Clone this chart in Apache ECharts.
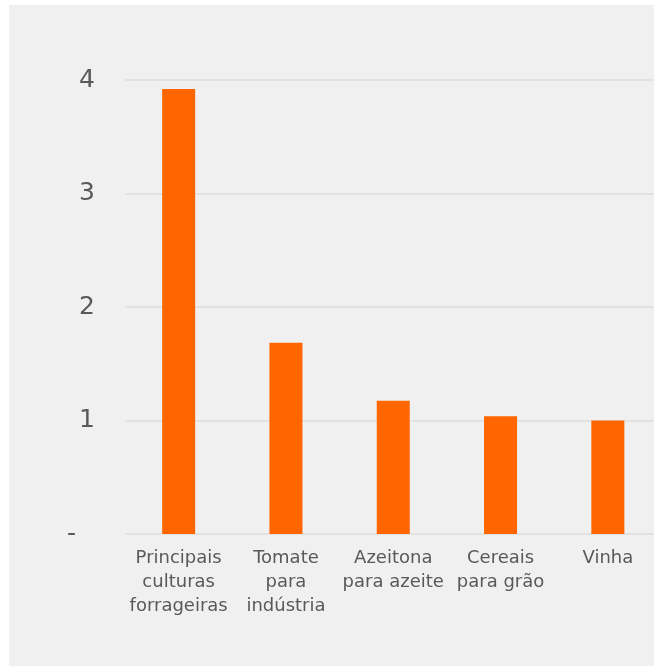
<!DOCTYPE html>
<html>
<head>
<meta charset="utf-8">
<script src="https://cdn.jsdelivr.net/npm/echarts@6/dist/echarts.min.js"></script>
<style>
  html, body { margin: 0; padding: 0; background: #f0f0f0; overflow: hidden; width: 100%; height: 100%; }
  #topband { position: fixed; left: 0; top: 0; width: 100%; height: 5px; background: #ffffff; }
  #leftband { position: fixed; left: 0; top: 0; width: 9px; height: 100%; background: #ffffff; }
  #chart { position: absolute; left: 9px; top: 5px; width: 760px; height: 760px; background: #f0f0f0; }
</style>
</head>
<body>
<div id="topband"></div>
<div id="leftband"></div>
<div id="chart"></div>
<script>
const categories = ["Principais\nculturas\nforrageiras", "Tomate\npara\nindústria", "Azeitona\npara azeite", "Cereais\npara grão", "Vinha"];
const values = [3.92, 1.685, 1.175, 1.037, 1.0];
const yTicks = [0, 1, 2, 3, 4];

const chart = echarts.init(document.getElementById('chart'));
chart.setOption({
  backgroundColor: '#f0f0f0',
  animation: false,
  grid: { left: 116, top: 75, width: 536.5, height: 454, containLabel: false },
  xAxis: {
    type: 'category',
    data: categories,
    axisLine: { show: false },
    axisTick: { show: false },
    axisLabel: {
      interval: 0,
      margin: 12,
      color: '#595959',
      fontFamily: 'DejaVu Sans',
      fontSize: 18,
      lineHeight: 24,
      align: 'center'
    }
  },
  yAxis: {
    type: 'value',
    min: yTicks[0],
    max: yTicks[yTicks.length - 1],
    interval: 1,
    axisLine: { show: false },
    axisTick: { show: false },
    splitLine: { lineStyle: { color: '#e2e2e2', width: 2 } },
    axisLabel: {
      margin: 30,
      color: '#595959',
      fontFamily: 'DejaVu Sans',
      fontSize: 25,
      formatter: function (v) { return v === 0 ? '{d|-}' : String(v); },
      rich: {
        d: { fontFamily: 'DejaVu Sans', fontSize: 25, color: '#595959', padding: [0, 19, 0, 0] }
      }
    }
  },
  series: [{
    type: 'bar',
    data: values,
    barWidth: 33,
    itemStyle: { color: '#ff6600' }
  }]
});
</script>
</body>
</html>
